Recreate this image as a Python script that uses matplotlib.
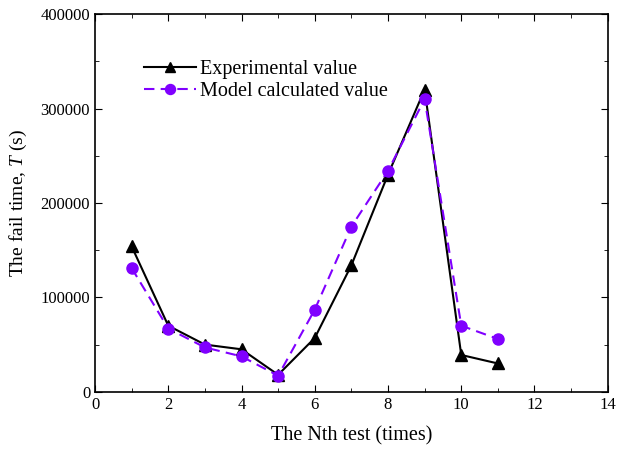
import numpy as np
import matplotlib
matplotlib.use("Agg")
import matplotlib.pyplot as plt
from matplotlib.ticker import MultipleLocator

plt.rcParams['font.family'] = ['Liberation Serif', 'DejaVu Serif']
plt.rcParams['mathtext.fontset'] = 'custom'
plt.rcParams['mathtext.it'] = 'Liberation Serif:italic'
plt.rcParams['mathtext.rm'] = 'Liberation Serif'

# data
test_no = [1, 2, 3, 4, 5, 6, 7, 8, 9, 10, 11]
exp_val = [154000, 70000, 50000, 45000, 18000, 57000, 134000, 230000, 320000, 39000, 30000]
model_val = [131000, 67000, 47000, 37500, 17000, 87000, 175000, 234000, 310000, 70000, 56000]

fig = plt.figure(figsize=(6.17, 4.54), dpi=100)
ax = fig.add_axes([0.154, 0.137, 0.831, 0.832])

ax.plot(test_no, exp_val, color='black', lw=1.5, marker='^', ms=8,
        label='Experimental value')
ax.plot(test_no, model_val, color='#8000ff', lw=1.5, ls=(0, (5, 3)), marker='o', ms=8,
        label='Model calculated value')

ax.set_xlim(0, 14)
ax.set_ylim(0, 400000)
ax.xaxis.set_major_locator(MultipleLocator(2))
ax.xaxis.set_minor_locator(MultipleLocator(1))
ax.yaxis.set_major_locator(MultipleLocator(100000))
ax.yaxis.set_minor_locator(MultipleLocator(50000))
ax.tick_params(which='both', direction='in', top=True, right=True, labelsize=12)
ax.tick_params(which='major', length=5)
ax.tick_params(which='minor', length=3)
for s in ax.spines.values():
    s.set_linewidth(1.2)

ax.set_xlabel('The Nth test (times)', fontsize=14.5, labelpad=10)
ax.set_ylabel('The fail time, $T$ (s)', fontsize=14, labelpad=8)

ax.legend(loc='upper left', bbox_to_anchor=(0.08, 0.9), frameon=False, fontsize=14.5,
          handlelength=2.6, handletextpad=0.2, labelspacing=0.15, borderaxespad=0,
          markerscale=0.9)

fig.savefig('out.png', dpi=100)
